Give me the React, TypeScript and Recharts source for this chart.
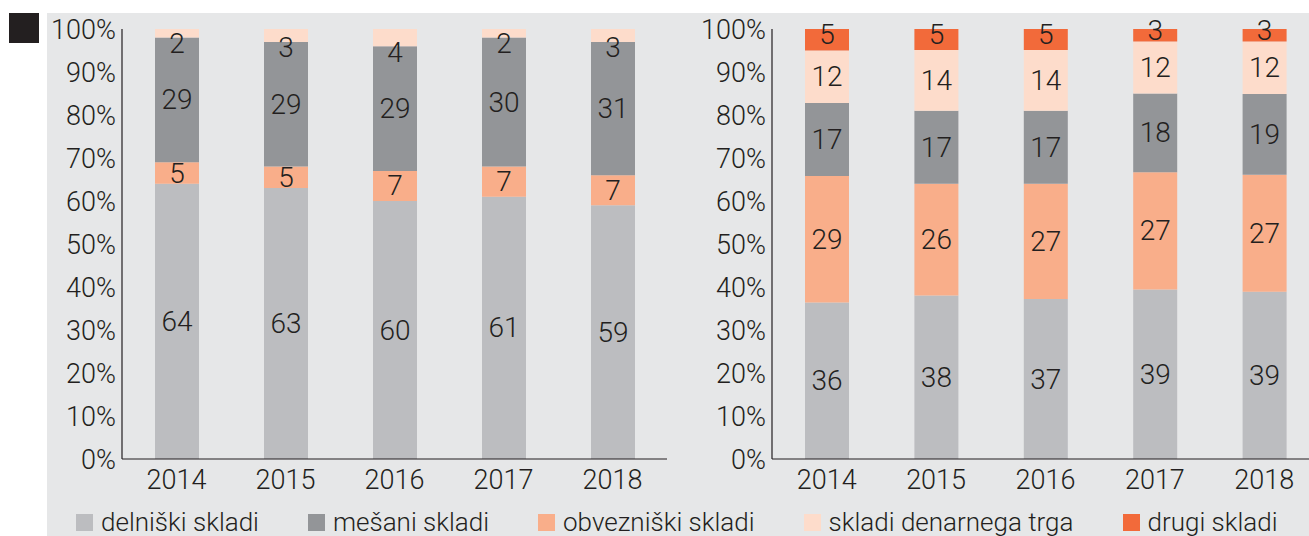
import { BarChart, Bar, XAxis, YAxis, LabelList } from 'recharts'

const YEARS = ['2014', '2015', '2016', '2017', '2018']

// levi graf
const LEFT_DELNISKI = [64, 63, 60, 61, 59]
const LEFT_OBVEZNISKI = [5, 5, 7, 7, 7]
const LEFT_MESANI = [29, 29, 29, 30, 31]
const LEFT_DENARNI = [2, 3, 4, 2, 3]

// desni graf
const RIGHT_DELNISKI = [36.4, 38.0, 37.2, 39.4, 38.9]
const RIGHT_OBVEZNISKI = [29.4, 26.0, 26.8, 27.3, 27.2]
const RIGHT_MESANI = [17.0, 17.0, 17.0, 18.3, 18.8]
const RIGHT_DENARNI = [12.2, 14.1, 14.1, 12.1, 12.2]
const RIGHT_DRUGI = [5.0, 4.9, 4.9, 2.9, 2.9]

const Y_TICKS = [0, 10, 20, 30, 40, 50, 60, 70, 80, 90, 100]

const SERIES = [
  { key: 'delniski', name: 'delniški skladi', color: '#bcbdc0' },
  { key: 'mesani', name: 'mešani skladi', color: '#939598' },
  { key: 'obvezniski', name: 'obvezniški skladi', color: '#f9ae8a' },
  { key: 'denarni', name: 'skladi denarnega trga', color: '#fddccb' },
  { key: 'drugi', name: 'drugi skladi', color: '#f26a3a' },
]
const COLOR: Record<string, string> = Object.fromEntries(SERIES.map(s => [s.key, s.color]))

const leftData = YEARS.map((year, i) => ({
  year,
  delniski: LEFT_DELNISKI[i],
  obvezniski: LEFT_OBVEZNISKI[i],
  mesani: LEFT_MESANI[i],
  denarni: LEFT_DENARNI[i],
}))

const rightData = YEARS.map((year, i) => ({
  year,
  delniski: RIGHT_DELNISKI[i],
  obvezniski: RIGHT_OBVEZNISKI[i],
  mesani: RIGHT_MESANI[i],
  denarni: RIGHT_DENARNI[i],
  drugi: RIGHT_DRUGI[i],
}))

const FONT = 'Roboto, "Liberation Sans", Arial, sans-serif'
const WEIGHT = 300
const INK = '#231f20'

const makeLabel = (shift: (h: number) => number) => (props: any) => {
  const { x, y, width, height, value } = props
  const h = Number(height)
  return (
    <text
      x={Number(x) + Number(width) / 2}
      y={Number(y) + h / 2 + shift(h)}
      textAnchor="middle"
      dominantBaseline="central"
      fontSize={28}
      fontFamily={FONT}
      fontWeight={WEIGHT}
      fill={INK}
    >
      {Math.round(Number(value))}
    </text>
  )
}

const centered = makeLabel(() => 0)
const belowTop = makeLabel(h => h / 2 + 6)
const raised = makeLabel(() => -5)

function StackChart({
  data, keys, width, margin, topLabel,
}: {
  data: any[]
  keys: string[]
  width: number
  margin: { top: number; right: number; left: number; bottom: number }
  topLabel: (props: any) => any
}) {
  const tickStyle = { fontSize: 27, fill: INK, fontFamily: FONT, fontWeight: WEIGHT }
  return (
    <BarChart width={width} height={536} data={data} margin={margin} barSize={44}>
      <XAxis
        dataKey="year"
        axisLine={{ stroke: INK, strokeWidth: 1.2 }}
        tickLine={false}
        tickSize={6}
        tickMargin={5}
        height={40}
        tick={tickStyle}
      />
      <YAxis
        domain={[0, 100]}
        ticks={Y_TICKS}
        interval={0}
        width={72}
        axisLine={{ stroke: INK, strokeWidth: 1.2 }}
        tickLine={false}
        tickSize={4}
        tickMargin={2}
        tickFormatter={v => `${v}%`}
        tick={tickStyle}
      />
      {keys.map((k, i) => (
        <Bar key={k} dataKey={k} stackId="a" fill={COLOR[k]} isAnimationActive={false}>
          <LabelList dataKey={k} content={i === keys.length - 1 ? topLabel : centered} />
        </Bar>
      ))}
    </BarChart>
  )
}

export default function App() {
  return (
    <div style={{ position: 'relative', width: 1309, height: 536, overflow: 'hidden', fontFamily: FONT }}>
      <style>{'body{margin:0}'}</style>
      <div style={{ position: 'absolute', left: 47, top: 13, width: 1262, height: 523, background: '#e6e7e8' }} />
      <div style={{ position: 'absolute', left: 9, top: 13, width: 30, height: 30, background: INK }} />
      <div style={{ position: 'absolute', left: 0, top: 0 }}>
        <StackChart
          data={leftData}
          keys={['delniski', 'obvezniski', 'mesani', 'denarni']}
          width={700}
          margin={{ top: 29, right: 33, left: 50, bottom: 37 }}
          topLabel={belowTop}
        />
      </div>
      <div style={{ position: 'absolute', left: 700, top: 0 }}>
        <StackChart
          data={rightData}
          keys={['delniski', 'obvezniski', 'mesani', 'denarni', 'drugi']}
          width={660}
          margin={{ top: 29, right: 41, left: 0, bottom: 37 }}
          topLabel={raised}
        />
      </div>
      <div
        style={{
          position: 'absolute', left: 76, top: 507, display: 'flex', gap: 49,
          fontSize: 26, fontWeight: WEIGHT, color: INK, alignItems: 'center', whiteSpace: 'nowrap',
        }}
      >
        {SERIES.map(s => (
          <div key={s.key} style={{ display: 'flex', alignItems: 'center' }}>
            <span style={{ width: 17, height: 17, background: s.color, marginRight: 8, display: 'inline-block' }} />
            <span>{s.name}</span>
          </div>
        ))}
      </div>
    </div>
  )
}
